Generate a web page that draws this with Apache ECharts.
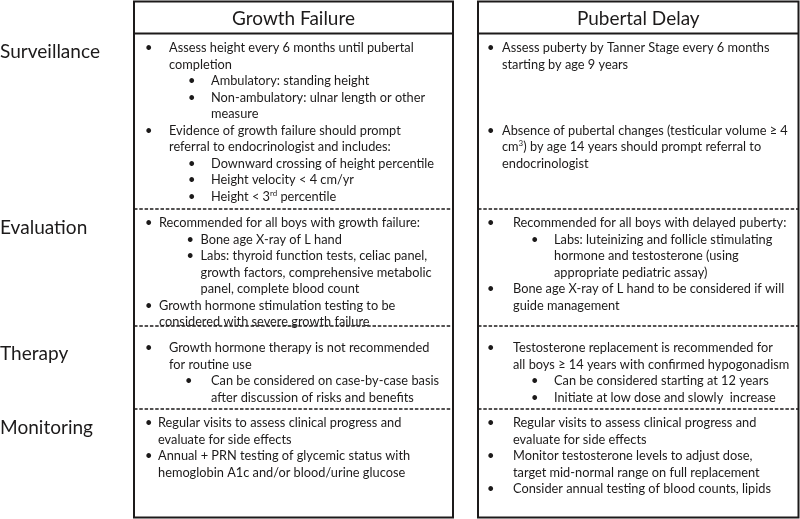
<!DOCTYPE html>
<html><head><meta charset="utf-8">
<script src="https://cdn.jsdelivr.net/npm/echarts@6/dist/echarts.min.js"></script>
<style>html,body{margin:0;padding:0;background:#fff}#c{width:800px;height:519px}</style>
</head><body><div id="c"></div><script>
// ---- content ----
const columnTitles = ['Growth Failure', 'Pubertal Delay'];
const rowLabels = ['Surveillance', 'Evaluation', 'Therapy', 'Monitoring'];
// kinds: b = bullet, c = continuation, s = sub-bullet, sc = sub continuation, '' = blank line
const growthSurveillance = [
  ['b', 'Assess height every 6 months until pubertal'],
  ['c', 'completion'],
  ['s', 'Ambulatory: standing height'],
  ['s', 'Non-ambulatory: ulnar length or other'],
  ['sc', 'measure'],
  ['b', 'Evidence of growth failure should prompt'],
  ['c', 'referral to endocrinologist and includes:'],
  ['s', 'Downward crossing of height percentile'],
  ['s', 'Height velocity < 4 cm/yr'],
  ['s', 'Height < 3{sup|rd} percentile']
];
const growthEvaluation = [
  ['b', 'Recommended for all boys with growth failure:'],
  ['s', 'Bone age X-ray of L hand'],
  ['s', 'Labs: thyroid function tests, celiac panel,'],
  ['sc', 'growth factors, comprehensive metabolic'],
  ['sc', 'panel, complete blood count'],
  ['b', 'Growth hormone stimulation testing to be'],
  ['c', 'considered with severe growth failure']
];
const growthTherapy = [
  ['b', 'Growth hormone therapy is not recommended'],
  ['c', 'for routine use'],
  ['s', 'Can be considered on case-by-case basis'],
  ['sc', 'after discussion of risks and benefits']
];
const growthMonitoring = [
  ['b', 'Regular visits to assess clinical progress and'],
  ['c', 'evaluate for side effects'],
  ['b', 'Annual + PRN testing of glycemic status with'],
  ['c', 'hemoglobin A1c and/or blood/urine glucose']
];
const pubertalSurveillance = [
  ['b', 'Assess puberty by Tanner Stage every 6 months'],
  ['c', 'starting by age 9 years'],
  ['', ''], ['', ''], ['', ''],
  ['b', 'Absence of pubertal changes (testicular volume \u2265 4'],
  ['c', 'cm{sup|3}) by age 14 years should prompt referral to'],
  ['c', 'endocrinologist']
];
const pubertalEvaluation = [
  ['b', 'Recommended for all boys with delayed puberty:'],
  ['s', 'Labs: luteinizing and follicle stimulating'],
  ['sc', 'hormone and testosterone (using'],
  ['sc', 'appropriate pediatric assay)'],
  ['b', 'Bone age X-ray of L hand to be considered if will'],
  ['c', 'guide management']
];
const pubertalTherapy = [
  ['b', 'Testosterone replacement is recommended for'],
  ['c', 'all boys \u2265 14 years with confirmed hypogonadism'],
  ['s', 'Can be considered starting at 12 years'],
  ['s', 'Initiate at low dose and slowly  increase']
];
const pubertalMonitoring = [
  ['b', 'Regular visits to assess clinical progress and'],
  ['c', 'evaluate for side effects'],
  ['b', 'Monitor testosterone levels to adjust dose,'],
  ['c', 'target mid-normal range on full replacement'],
  ['b', 'Consider annual testing of blood counts, lipids']
];
const cells = [
  [growthSurveillance, pubertalSurveillance],
  [growthEvaluation, pubertalEvaluation],
  [growthTherapy, pubertalTherapy],
  [growthMonitoring, pubertalMonitoring]
];

// ---- layout ----
const FONT = 'Lato';
const INK = '#1c1a1a';
const tables = [{x0: 134, x1: 453}, {x0: 478, x1: 798.5}];
const topY = 1.5, headerY = 33.5, rowBottoms = [209, 326, 409, 517.5];
const labelY = [52, 228, 354, 428];
const cellLayout = [
  [{y0: 48, bx: 145, tx: 169, sbx: 188, stx: 211}, {y0: 48, bx: 487, tx: 502, sbx: 531, stx: 554}],
  [{y0: 223, bx: 145, tx: 159, sbx: 186.5, stx: 200.5}, {y0: 223, bx: 487, tx: 513, sbx: 531, stx: 554}],
  [{y0: 348, bx: 145, tx: 169, sbx: 185, stx: 211}, {y0: 348, bx: 487, tx: 513, sbx: 531, stx: 554}],
  [{y0: 423, bx: 145, tx: 158, sbx: 188, stx: 211}, {y0: 423, bx: 487, tx: 513, sbx: 531, stx: 554}]
];
const LINE_H = 16.5;

const ctx = document.createElement('canvas').getContext('2d');
function fitSize(str, target) {
  ctx.font = '100px ' + FONT;
  return 100 * target / ctx.measureText(str).width;
}
const bodySize = fitSize('Regular visits to assess clinical progress and', 243.5);
const headSize = fitSize('Growth Failure', 123);
const labelSize = fitSize('Surveillance', 100);

const g = [];
function line(x1, y1, x2, y2, dashed) {
  g.push({type: 'line', shape: {x1, y1, x2, y2}, silent: true,
    style: {stroke: INK, lineWidth: dashed ? 1.4 : 2, lineDash: dashed ? [3.5, 1.8] : null}});
}
function text(x, y, str, size, align) {
  g.push({type: 'text', x, y, silent: true, style: {
    text: str, fontFamily: FONT, fontSize: size, fill: INK,
    align: align || 'left', verticalAlign: 'middle',
    rich: {sup: {fontSize: size * 0.62, fontFamily: FONT, fill: INK, padding: [0, 0, size * 0.55, 0]}}
  }});
}

tables.forEach((t, ci) => {
  g.push({type: 'rect', shape: {x: t.x0, y: topY, width: t.x1 - t.x0, height: rowBottoms[3] - topY},
    silent: true, style: {fill: null, stroke: INK, lineWidth: 2}});
  line(t.x0, headerY, t.x1, headerY, false);
  for (let r = 0; r < 3; r++) line(t.x0, rowBottoms[r], t.x1, rowBottoms[r], true);
  text((t.x0 + t.x1) / 2, (topY + headerY) / 2 + 1, columnTitles[ci], headSize, 'center');
});
rowLabels.forEach((lab, r) => text(0, labelY[r], lab, labelSize, 'left'));

cells.forEach((row, r) => row.forEach((items, c) => {
  const L = cellLayout[r][c];
  items.forEach((it, i) => {
    const y = L.y0 + i * LINE_H;
    const kind = it[0];
    if (!kind) return;
    if (kind === 'b') text(L.bx, y, '\u2022', bodySize);
    if (kind === 's') text(L.sbx, y, '\u2022', bodySize);
    const x = (kind === 'b' || kind === 'c') ? L.tx : L.stx;
    text(x, y, it[1], bodySize);
  });
}));

const chart = echarts.init(document.getElementById('c'), null, {renderer: 'canvas'});
chart.setOption({animation: false, backgroundColor: '#fff', graphic: g});
</script></body></html>
